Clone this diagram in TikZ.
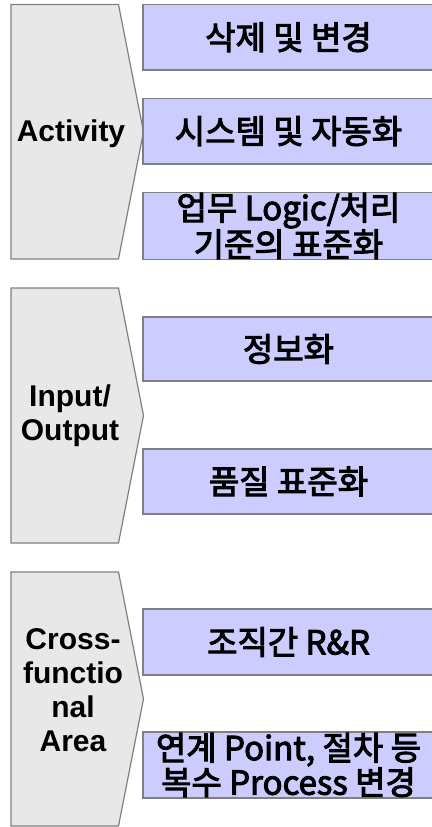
\documentclass[tikz,border=0pt]{standalone}
\usepackage{fontspec}
\setmainfont{Liberation Sans}
\newfontfamily\kr{Noto Sans CJK KR}[FakeBold=3]
\definecolor{chevfill}{HTML}{E8E8E8}
\definecolor{boxfill}{HTML}{CCCCFF}
\definecolor{edge}{HTML}{808080}
\tikzset{
  chev/.style={fill=chevfill, draw=edge, line width=1.2pt, line join=miter},
  lbl/.style={align=center, font=\fontsize{30}{34}\selectfont\bfseries, inner sep=0pt},
  item/.style={fill=boxfill, draw=edge, line width=1.3pt, minimum width=291pt, align=center,
    inner sep=0pt, font=\kr\fontsize{33}{31}\selectfont},
}
\begin{document}
\begin{tikzpicture}[x=1pt,y=-1pt]
\useasboundingbox (0,0) rectangle (431,827);
% chevrons
\draw[chev] (11,4.5) -- (118.5,4.5) -- (143.5,131.75) -- (118.5,259) -- (11,259) -- cycle;
\draw[chev] (11,288) -- (118.5,288) -- (143.5,415.5) -- (118.5,543) -- (11,543) -- cycle;
\draw[chev] (11,572) -- (118.5,572) -- (143.5,699) -- (118.5,826) -- (11,826) -- cycle;
\node[lbl] (l1) at (71,134) {Activity};
\node[lbl] (l2) at (70,416) {Input/\\Output};
\node[lbl] (l3) at (73,690) {Cross-\\functio\\nal\\Area};
% items
\node[item, minimum height=65.5pt] (a1) at (288.5,37.25) {삭제 및 변경};
\node[item, minimum height=65.5pt] (a2) at (288.5,131.15) {시스템 및 자동화};
\node[item, minimum height=66.5pt] (a3) at (288.5,226) {업무 Logic/처리\\기준의 표준화};
\node[item, minimum height=64pt] (b1) at (288.5,349) {정보화};
\node[item, minimum height=65pt] (b2) at (288.5,481.5) {품질 표준화};
\node[item, minimum height=66pt] (c1) at (288.5,642) {조직간 R\&R};
\node[item, minimum height=66pt] (c2) at (288.5,765) {연계 Point, 절차 등\\복수 Process 변경};
\end{tikzpicture}
\end{document}
